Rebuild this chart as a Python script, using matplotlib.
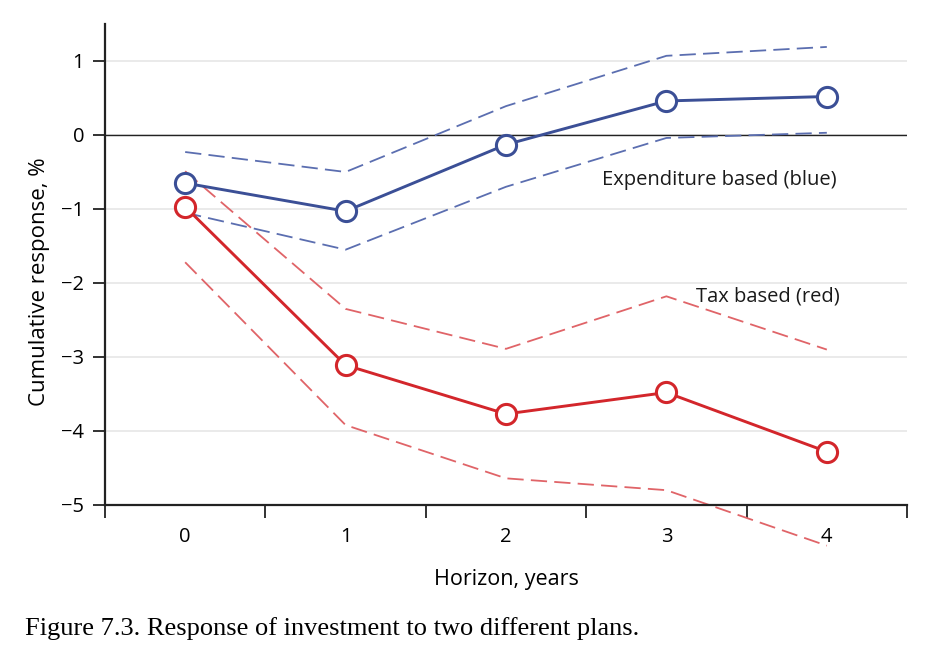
import numpy as np
import matplotlib
matplotlib.use("Agg")
import matplotlib.pyplot as plt

# horizon in years
horizon = [0, 1, 2, 3, 4]

# expenditure based plan (blue)
exp_mid = [-0.65, -1.03, -0.13, 0.46, 0.52]
exp_hi = [-0.23, -0.50, 0.39, 1.07, 1.19]
exp_lo = [-1.05, -1.55, -0.70, -0.04, 0.03]

# tax based plan (red)
tax_mid = [-0.97, -3.11, -3.77, -3.48, -4.28]
tax_hi = [-0.49, -2.35, -2.89, -2.18, -2.90]
tax_lo = [-1.72, -3.92, -4.64, -4.80, -5.55]

yticks = [1, 0, -1, -2, -3, -4, -5]

blue = "#3b4f96"
blue_light = "#5b6eb0"
red = "#d3262b"
red_light = "#e06468"

plt.rcParams['font.family'] = ['Open Sans', 'DejaVu Sans']

fig = plt.figure(figsize=(9.28, 6.52), dpi=100)
ax = fig.add_axes([0.1131, 0.2255, 0.8643, 0.7377])

# gridlines and zero line
for v in yticks:
    ax.axhline(v, color="#e6e6e6", lw=1.2, zorder=0)
ax.axhline(0, color="#222222", lw=1.0, zorder=1)

# confidence bands as dashed lines
ax.plot(horizon, exp_hi, color=blue_light, lw=1.3, dashes=(9, 4), zorder=2)
ax.plot(horizon, exp_lo, color=blue_light, lw=1.3, dashes=(9, 4), zorder=2)
ax.plot(horizon, tax_hi, color=red_light, lw=1.3, dashes=(9, 4), zorder=2)
ax.plot(horizon, tax_lo, color=red_light, lw=1.3, dashes=(9, 4), zorder=2,
        clip_on=False)

# point estimates
ax.plot(horizon, exp_mid, color=blue, lw=2.1, marker="o", ms=14.5,
        mfc="white", mec=blue, mew=2.2, zorder=4)
ax.plot(horizon, tax_mid, color=red, lw=2.1, marker="o", ms=14.5,
        mfc="white", mec=red, mew=2.2, zorder=4)

ax.text(3.33, -0.61, "Expenditure based (blue)", ha="center", va="center",
        fontsize=14.5, color="#1a1a1a")
ax.text(3.63, -2.18, "Tax based (red)", ha="center", va="center",
        fontsize=14.5, color="#1a1a1a")

ax.set_xlim(-0.5, 4.5)
ax.set_ylim(-5, 1.5)

# ticks at half-years, labels at whole years
ax.set_xticks(np.arange(-0.5, 4.6, 1.0))
ax.set_xticklabels([])
ax.set_xticks(horizon, minor=True)
ax.set_xticklabels([str(h) for h in horizon], minor=True)
ax.tick_params(axis="x", which="major", direction="out", length=9, width=1.3,
               color="#222222")
ax.tick_params(axis="x", which="minor", length=0, pad=16, labelsize=14.5)

ax.set_yticks(yticks)
ax.set_yticklabels(["1", "0", "\u22121", "\u22122", "\u22123", "\u22124", "\u22125"])
ax.tick_params(axis="y", direction="out", length=9, width=1.3,
               color="#222222", labelsize=14.5, pad=6)

for s in ["top", "right"]:
    ax.spines[s].set_visible(False)
for s in ["left", "bottom"]:
    ax.spines[s].set_linewidth(1.6)
    ax.spines[s].set_color("#222222")

ax.set_xlabel("Horizon, years", fontsize=15.5, labelpad=16)
fig.text(40 / 928, 1 - 282 / 652, "Cumulative response, %", fontsize=16,
         rotation=90, ha="center", va="center")

fig.text(0.027, 1 - 635 / 652, "Figure 7.3. Response of investment to two different plans.",
         fontsize=19, family="Liberation Serif", ha="left", va="baseline")

fig.savefig("out.png", dpi=100)
